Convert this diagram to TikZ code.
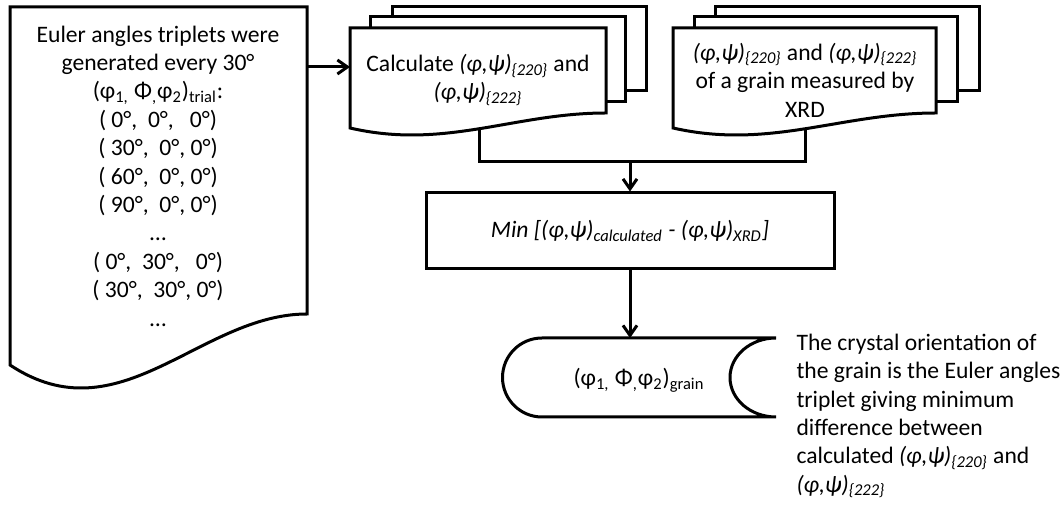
\documentclass[tikz,border=0pt]{standalone}
\usepackage{fontspec}
\setmainfont{Carlito}
\usetikzlibrary{arrows.meta}

\begin{document}
\begin{tikzpicture}[x=0.5pt, y=-0.5pt, line width=1.5pt, font=\fontsize{11.8}{14.2}\selectfont]
    \tikzstyle{txt} += [align=center, inner sep=0pt];
    \tikzstyle{page} += [draw=black, fill=white];
    \tikzstyle{flow} += [-{Straight Barb[length=5pt, width=7pt]}];
    \useasboundingbox (0,0) rectangle (1064,506);

    % trial triplets
    \draw[page] (10,7) -- (307,7) -- (307,314)
      .. controls (200,314) and (120,438) .. (10,365) -- cycle;
    \node (trials) at (158,176) [txt] {Euler angles triplets were\\
      generated every 30°\\
      (φ\textsubscript{1,} Φ\textsubscript{,}φ\textsubscript{2})\textsubscript{trial}:\\
      ( 0°,\ \ 0°,\ \ \ 0°)\\
      ( 30°,\ \ 0°, 0°)\\
      ( 60°,\ \ 0°, 0°)\\
      ( 90°,\ \ 0°, 0°)\\
      …\\
      ( 0°,\ \ 30°,\ \ \ 0°)\\
      ( 30°,\ \ 30°, 0°)\\
      …};
    \coordinate (trials_out) at (307,67);

    % calculated pole figure angles
    \draw[page] (392,7) rectangle (646,91);
    \draw[page] (370,17) rectangle (625,102);
    \draw[page] (350,28) -- (606,28) -- (606,113)
      .. controls (514,113) and (445,150) .. coordinate[pos=0.5] (calc_out) (350,128) -- cycle;
    \node (calc) at (478,80) [txt] {Calculate \textit{(φ,ψ)\textsubscript{\{220\}}} and\\
      \textit{(φ,ψ)\textsubscript{\{222\}}}};
    \coordinate (calc_in) at (350,67);

    % measured angles
    \draw[page] (715,7) rectangle (979,91);
    \draw[page] (694,17) rectangle (957,102);
    \draw[page] (673,28) -- (936,28) -- (936,113)
      .. controls (841,113) and (770,150) .. coordinate[pos=0.5] (xrd_out) (673,128) -- cycle;
    \node (xrd) at (805,80) [txt] {\textit{(φ,ψ)\textsubscript{\{220\}}} and \textit{(φ,ψ)\textsubscript{\{222\}}}\\
      of a grain measured by\\
      XRD};

    % minimisation
    \node (min) at (630,231) [draw, minimum width=204pt, minimum height=38pt]
      {\textit{Min [(φ,ψ)\textsubscript{calculated} - (φ,ψ)\textsubscript{XRD}]}};

    % result
    \draw (542,338) -- (776,338) arc[start angle=270, end angle=90, x radius=46, y radius=39.5]
      -- (542,417) arc[start angle=90, end angle=270, radius=39.5] -- cycle;
    \node (grain) at (639,380) [txt] {(φ\textsubscript{1,} Φ\textsubscript{,}φ\textsubscript{2})\textsubscript{grain}};
    \coordinate (grain_in) at (630,338);

    \node (note) at (795,416) [anchor=west, align=left, inner sep=0pt] {The crystal orientation of\\
      the grain is the Euler angles\\
      triplet giving minimum\\
      difference between\\
      calculated \textit{(φ,ψ)\textsubscript{\{220\}}} and\\
      \textit{(φ,ψ)\textsubscript{\{222\}}}};

    \coordinate (join) at (630,162);
    \draw[flow] (trials_out) -- (calc_in);
    \draw (calc_out) |- (join) -| (xrd_out);
    \draw[flow] (join) -- (min.north);
    \draw[flow] (min.south) -- (grain_in);
  \end{tikzpicture}
\end{document}
